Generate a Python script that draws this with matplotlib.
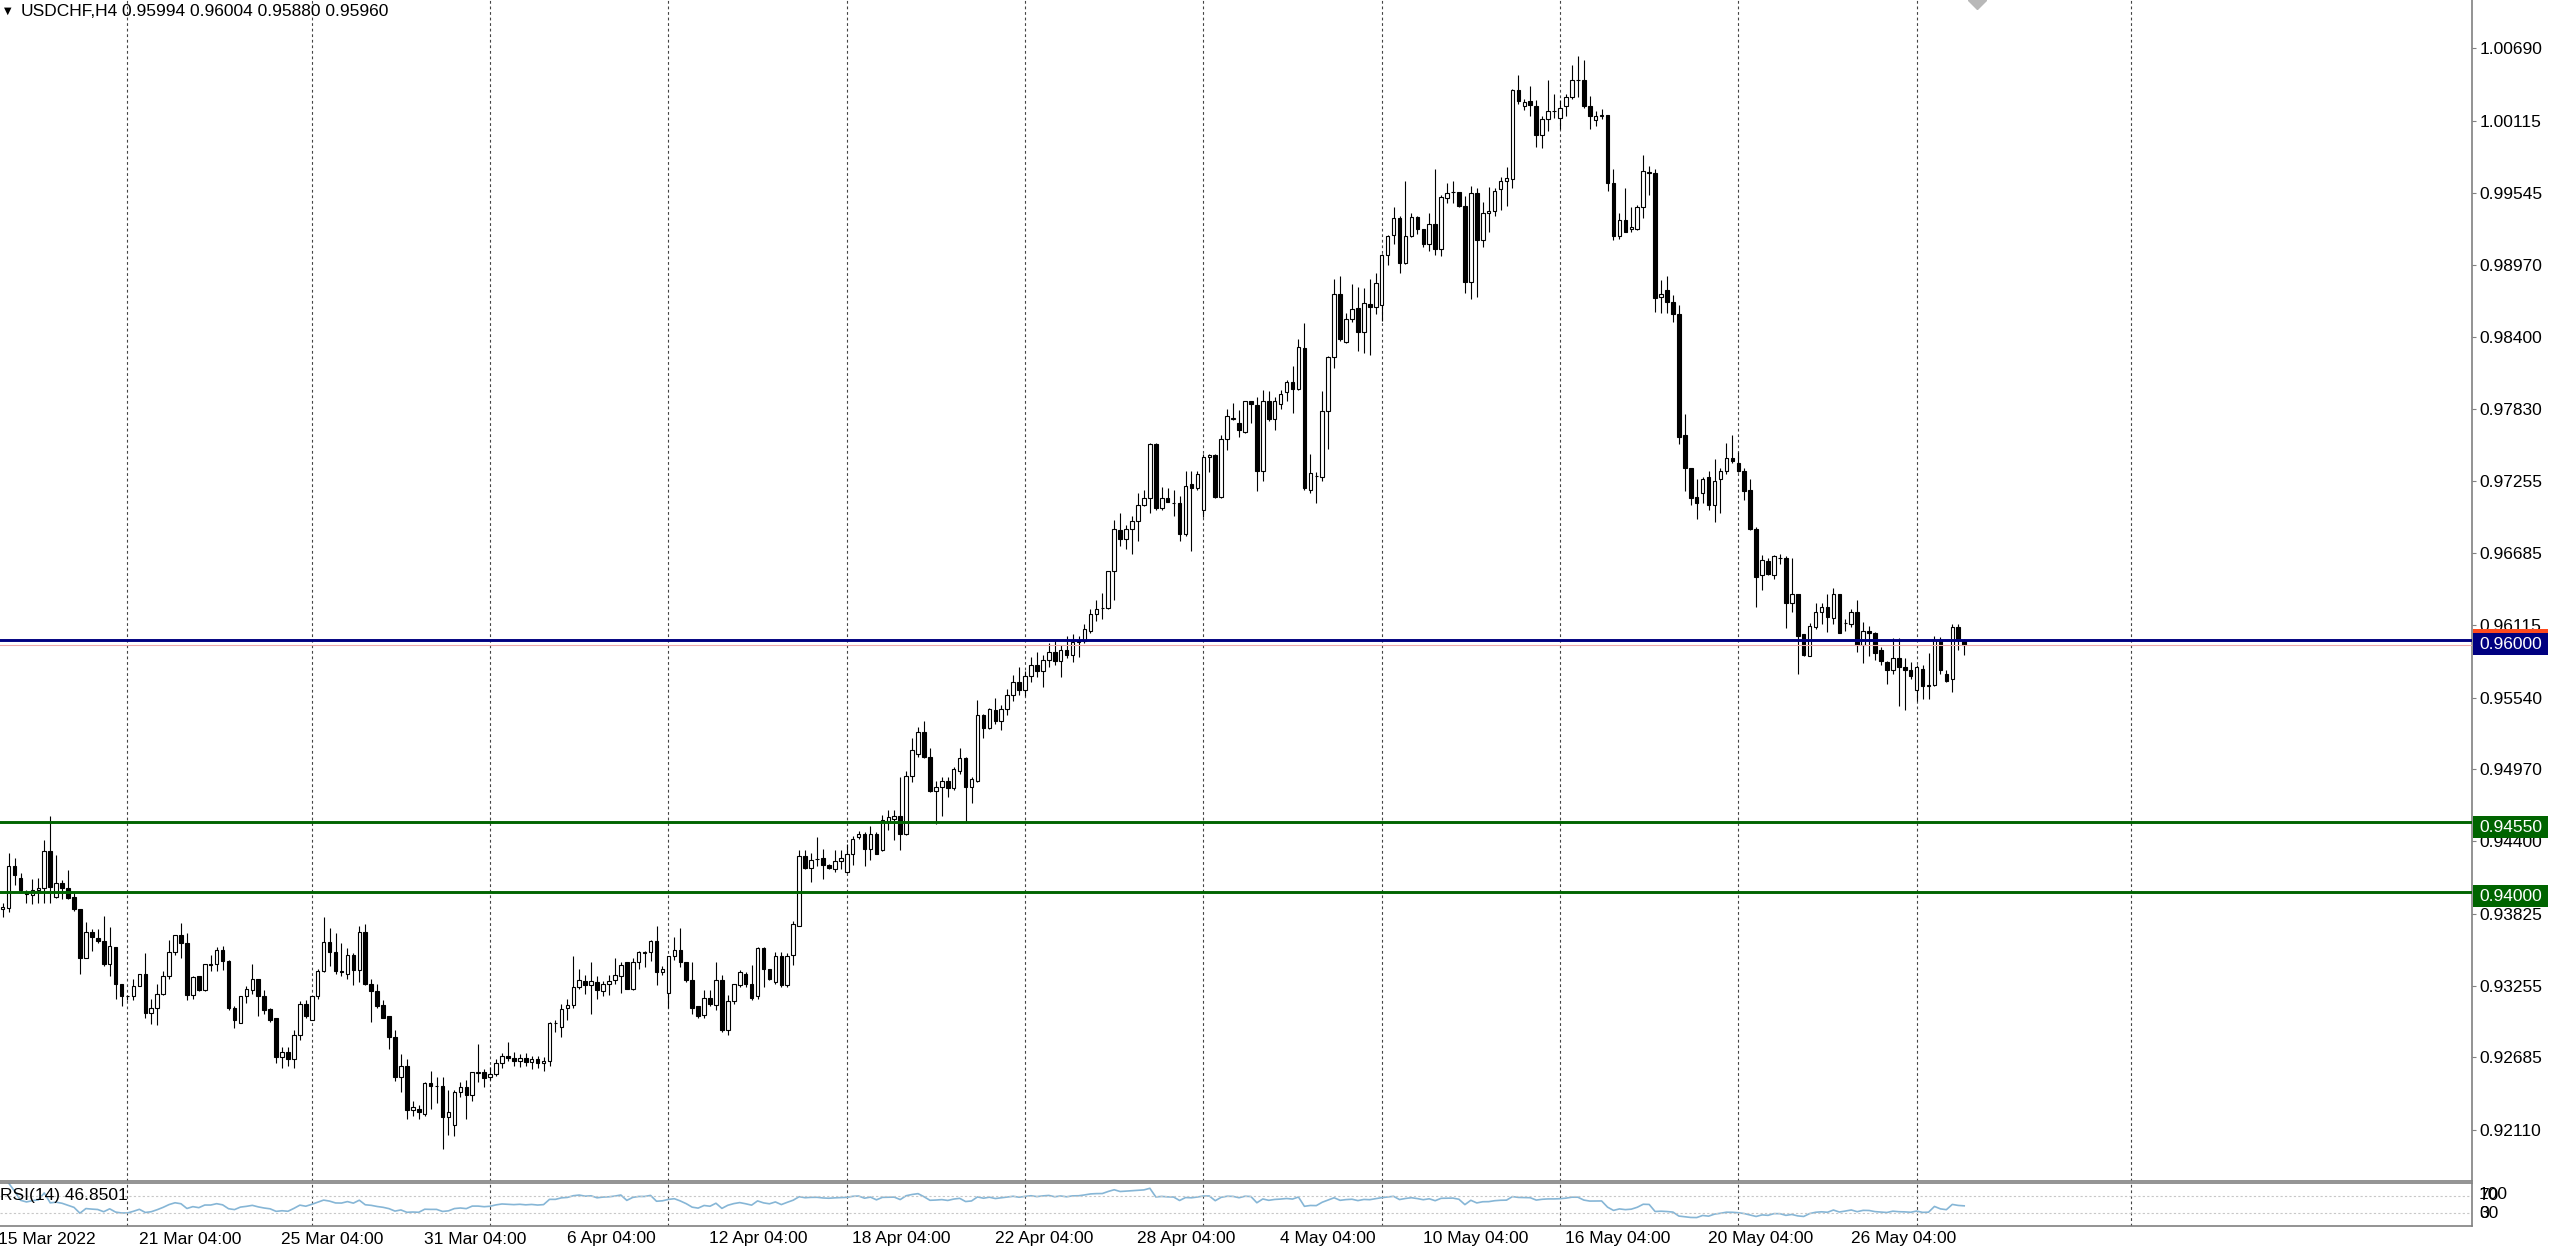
import numpy as np
import pandas as pd
import matplotlib
matplotlib.use("Agg")
import matplotlib.pyplot as plt
from matplotlib.patches import Rectangle
from matplotlib.transforms import blended_transform_factory as blend

plt.rcParams['font.family'] = ['Liberation Sans', 'DejaVu Sans']

# USDCHF H4 candles (left to right)
opens = [
    0.9386, 0.9387, 0.9420, 0.9411, 0.9399, 0.9397, 0.9401, 0.9403, 0.9432, 0.9396,
    0.9407, 0.9403, 0.9396, 0.9386, 0.9347, 0.9368, 0.9363, 0.9361, 0.9343, 0.9356,
    0.9327, 0.9317, 0.9317, 0.9325, 0.9335, 0.9304, 0.9308, 0.9319, 0.9333, 0.9352,
    0.9366, 0.9359, 0.9318, 0.9333, 0.9322, 0.9342, 0.9343, 0.9354, 0.9345, 0.9308,
    0.9296, 0.9317, 0.9322, 0.9331, 0.9317, 0.9307, 0.9300, 0.9269, 0.9273, 0.9267,
    0.9286, 0.9311, 0.9298, 0.9317, 0.9337, 0.9360, 0.9352, 0.9337, 0.9335, 0.9350,
    0.9338, 0.9368, 0.9327, 0.9321, 0.9310, 0.9301, 0.9285, 0.9253, 0.9262, 0.9227,
    0.9228, 0.9224, 0.9248, 0.9246, 0.9246, 0.9221, 0.9215, 0.9241, 0.9245, 0.9239,
    0.9256, 0.9257, 0.9253, 0.9255,
    0.9264, 0.9270, 0.9268, 0.9266, 0.9268, 0.9265, 0.9267, 0.9264, 0.9266,
    0.9296, 0.9293, 0.9308, 0.9310, 0.9324, 0.9329, 0.9326, 0.9328, 0.9321, 0.9327,
    0.9330, 0.9333, 0.9344, 0.9323, 0.9344, 0.9351, 0.9352, 0.9361, 0.9336, 0.9320,
    0.9349, 0.9354, 0.9344, 0.9330, 0.9309, 0.9302, 0.9316, 0.9310, 0.9330, 0.9290,
    0.9313, 0.9326, 0.9335, 0.9327, 0.9317, 0.9355, 0.9339, 0.9328, 0.9349, 0.9326,
    0.9350, 0.9373, 0.9428, 0.9419, 0.9426, 0.9427, 0.9421, 0.9418, 0.9424, 0.9416,
    0.9430, 0.9443, 0.9446, 0.9434, 0.9446, 0.9433, 0.9456, 0.9458, 0.9460, 0.9446,
    0.9492, 0.9509, 0.9527, 0.9507, 0.9480, 0.9483, 0.9488, 0.9482, 0.9496, 0.9506,
    0.9483, 0.9488, 0.9540, 0.9530, 0.9544,
    0.9535, 0.9545, 0.9556, 0.9566, 0.9560, 0.9571, 0.9580, 0.9575, 0.9584, 0.9590,
    0.9583, 0.9592, 0.9588, 0.9598,
    0.9599, 0.9607, 0.9620, 0.9625, 0.9625, 0.9654, 0.9687, 0.9680, 0.9688, 0.9694,
    0.9707, 0.9712, 0.9755, 0.9704, 0.9712, 0.9708, 0.9708, 0.9684, 0.9723, 0.9720,
    0.9703, 0.9745, 0.9746, 0.9713, 0.9759, 0.9775, 0.9772, 0.9765, 0.9789, 0.9786,
    0.9734, 0.9789, 0.9775, 0.9787, 0.9796, 0.9804, 0.9799, 0.9831, 0.9719, 0.9730,
    0.9729, 0.9781, 0.9824, 0.9874, 0.9836, 0.9854, 0.9863, 0.9844, 0.9866, 0.9864,
    0.9865, 0.9905, 0.9921, 0.9934, 0.9899, 0.9920, 0.9935, 0.9926, 0.9914, 0.9930,
    0.9910, 0.9950, 0.9955, 0.9955, 0.9944, 0.9884, 0.9954, 0.9917, 0.9938, 0.9940,
    0.9957, 0.9964, 0.9965, 1.0036, 1.0023, 1.0027, 1.0023, 1.0000, 1.0013, 1.0019,
    1.0014, 1.0023, 1.0030, 1.0044, 1.0044, 1.0023, 1.0012, 1.0015, 1.0016, 0.9962,
    0.9920, 0.9933, 0.9926, 0.9926, 0.9943, 0.9971, 0.9970, 0.9872, 0.9877, 0.9868,
    0.9858, 0.9762, 0.9736, 0.9713, 0.9716, 0.9729, 0.9707, 0.9727, 0.9734, 0.9744,
    0.9740, 0.9734, 0.9719, 0.9688, 0.9651, 0.9662, 0.9651, 0.9665, 0.9665, 0.9629,
    0.9636, 0.9604, 0.9587, 0.9610, 0.9622, 0.9626, 0.9617, 0.9636, 0.9613, 0.9612,
    0.9622, 0.9596, 0.9607, 0.9605, 0.9592, 0.9582, 0.9576, 0.9585, 0.9578, 0.9576,
    0.9560, 0.9577, 0.9563, 0.9564, 0.9600, 0.9573, 0.9569, 0.9610, 0.95994,
]
highs = [
    0.9391, 0.9431, 0.9427, 0.9415, 0.9401, 0.9410, 0.9411, 0.9441, 0.9460, 0.9429,
    0.9409, 0.9417, 0.9399, 0.9386, 0.9376, 0.9370, 0.9370, 0.9381, 0.9372, 0.9356,
    0.9327, 0.9318, 0.9331, 0.9335, 0.9351, 0.9315, 0.9327, 0.9337, 0.9362, 0.9366,
    0.9375, 0.9367, 0.9333, 0.9333, 0.9343, 0.9350, 0.9356, 0.9357, 0.9346, 0.9309,
    0.9317, 0.9325, 0.9343, 0.9331, 0.9322, 0.9308, 0.9300, 0.9277, 0.9277, 0.9290,
    0.9313, 0.9314, 0.9317, 0.9339, 0.9380, 0.9371, 0.9367, 0.9359, 0.9355, 0.9351,
    0.9373, 0.9374, 0.9331, 0.9327, 0.9314, 0.9301, 0.9290, 0.9271, 0.9267, 0.9234,
    0.9231, 0.9249, 0.9258, 0.9253, 0.9253, 0.9243, 0.9243, 0.9249, 0.9251, 0.9257,
    0.9279, 0.9259, 0.9261, 0.9267,
    0.9272, 0.9281, 0.9273, 0.9271, 0.9272, 0.9270, 0.9270, 0.9269, 0.9297,
    0.9298, 0.9311, 0.9315, 0.9349, 0.9339, 0.9334, 0.9344, 0.9333, 0.9329, 0.9334,
    0.9347, 0.9344, 0.9344, 0.9347, 0.9353, 0.9353, 0.9362, 0.9373, 0.9341, 0.9349,
    0.9364, 0.9371, 0.9344, 0.9344, 0.9309, 0.9322, 0.9322, 0.9344, 0.9334, 0.9318,
    0.9327, 0.9338, 0.9336, 0.9342, 0.9356, 0.9356, 0.9339, 0.9352, 0.9352, 0.9351,
    0.9377, 0.9433, 0.9433, 0.9431, 0.9443, 0.9434, 0.9422, 0.9433, 0.9433, 0.9438,
    0.9444, 0.9448, 0.9447, 0.9452, 0.9447, 0.9461, 0.9465, 0.9465, 0.9491, 0.9496,
    0.9522, 0.9531, 0.9535, 0.9514, 0.9488, 0.9491, 0.9491, 0.9499, 0.9514, 0.9507,
    0.9491, 0.9552, 0.9541, 0.9546, 0.9554,
    0.9548, 0.9561, 0.9572, 0.9578, 0.9575, 0.9586, 0.9590, 0.9588, 0.9597, 0.9600,
    0.9596, 0.9603, 0.9604, 0.9603,
    0.9612, 0.9624, 0.9631, 0.9637, 0.9654, 0.9695, 0.9700, 0.9691, 0.9698, 0.9716,
    0.9719, 0.9756, 0.9756, 0.9721, 0.9720, 0.9719, 0.9714, 0.9734, 0.9734, 0.9734,
    0.9747, 0.9747, 0.9747, 0.9762, 0.9783, 0.9788, 0.9782, 0.9789, 0.9789, 0.9792,
    0.9798, 0.9797, 0.9792, 0.9798, 0.9806, 0.9817, 0.9838, 0.9851, 0.9747, 0.9733,
    0.9797, 0.9825, 0.9886, 0.9888, 0.9859, 0.9882, 0.9880, 0.9879, 0.9886, 0.9891,
    0.9906, 0.9921, 0.9943, 0.9936, 0.9964, 0.9938, 0.9936, 0.9926, 0.9938, 0.9973,
    0.9953, 0.9962, 0.9964, 0.9955, 0.9952, 0.9960, 0.9958, 0.9947, 0.9959, 0.9958,
    0.9967, 0.9975, 1.0037, 1.0048, 1.0029, 1.0039, 1.0028, 1.0015, 1.0044, 1.0033,
    1.0028, 1.0033, 1.0056, 1.0063, 1.0060, 1.0031, 1.0019, 1.0021, 1.0016, 0.9973,
    0.9938, 0.9958, 0.9943, 0.9945, 0.9984, 0.9976, 0.9973, 0.9885, 0.9888, 0.9873,
    0.9865, 0.9779, 0.9736, 0.9727, 0.9729, 0.9734, 0.9743, 0.9736, 0.9756, 0.9762,
    0.9749, 0.9736, 0.9727, 0.9689, 0.9667, 0.9665, 0.9667, 0.9668, 0.9666, 0.9665,
    0.9636, 0.9604, 0.9613, 0.9629, 0.9629, 0.9636, 0.9641, 0.9636, 0.9616, 0.9624,
    0.9631, 0.9614, 0.9611, 0.9606, 0.9594, 0.9583, 0.9601, 0.9601, 0.9585, 0.9582,
    0.9580, 0.9580, 0.9589, 0.9603, 0.9602, 0.9576, 0.9612, 0.9612, 0.96004,
]
lows = [
    0.9380, 0.9384, 0.9405, 0.9400, 0.9391, 0.9390, 0.9391, 0.9391, 0.9391, 0.9395,
    0.9394, 0.9394, 0.9385, 0.9335, 0.9347, 0.9353, 0.9359, 0.9341, 0.9333, 0.9315,
    0.9309, 0.9314, 0.9314, 0.9325, 0.9300, 0.9295, 0.9294, 0.9318, 0.9331, 0.9350,
    0.9347, 0.9314, 0.9315, 0.9321, 0.9321, 0.9337, 0.9337, 0.9338, 0.9306, 0.9292,
    0.9296, 0.9312, 0.9319, 0.9301, 0.9303, 0.9297, 0.9264, 0.9260, 0.9262, 0.9260,
    0.9282, 0.9300, 0.9298, 0.9315, 0.9336, 0.9341, 0.9335, 0.9333, 0.9331, 0.9326,
    0.9328, 0.9326, 0.9297, 0.9308, 0.9300, 0.9275, 0.9250, 0.9241, 0.9220, 0.9222,
    0.9220, 0.9222, 0.9228, 0.9232, 0.9196, 0.9207, 0.9206, 0.9237, 0.9220, 0.9234,
    0.9249, 0.9245, 0.9251, 0.9254,
    0.9260, 0.9266, 0.9262, 0.9261, 0.9262, 0.9259, 0.9260, 0.9258, 0.9262,
    0.9289, 0.9285, 0.9298, 0.9308, 0.9323, 0.9319, 0.9303, 0.9315, 0.9317, 0.9318,
    0.9327, 0.9320, 0.9323, 0.9322, 0.9339, 0.9340, 0.9345, 0.9326, 0.9334, 0.9308,
    0.9346, 0.9340, 0.9328, 0.9303, 0.9300, 0.9300, 0.9309, 0.9306, 0.9289, 0.9286,
    0.9311, 0.9324, 0.9324, 0.9314, 0.9315, 0.9324, 0.9330, 0.9327, 0.9324, 0.9324,
    0.9342, 0.9373, 0.9418, 0.9408, 0.9420, 0.9410, 0.9418, 0.9416, 0.9418, 0.9415,
    0.9421, 0.9442, 0.9420, 0.9425, 0.9430, 0.9432, 0.9449, 0.9441, 0.9433, 0.9445,
    0.9487, 0.9507, 0.9506, 0.9479, 0.9454, 0.9460, 0.9475, 0.9481, 0.9493, 0.9455,
    0.9470, 0.9487, 0.9522, 0.9529, 0.9533,
    0.9528, 0.9540, 0.9551, 0.9556, 0.9555, 0.9566, 0.9570, 0.9562, 0.9578, 0.9580,
    0.9570, 0.9585, 0.9582, 0.9586,
    0.9597, 0.9605, 0.9615, 0.9616, 0.9624, 0.9631, 0.9674, 0.9672, 0.9668, 0.9678,
    0.9706, 0.9700, 0.9703, 0.9703, 0.9711, 0.9698, 0.9678, 0.9682, 0.9670, 0.9719,
    0.9697, 0.9733, 0.9712, 0.9712, 0.9750, 0.9774, 0.9761, 0.9764, 0.9772, 0.9718,
    0.9726, 0.9773, 0.9766, 0.9783, 0.9789, 0.9780, 0.9798, 0.9719, 0.9716, 0.9708,
    0.9726, 0.9751, 0.9815, 0.9837, 0.9835, 0.9852, 0.9829, 0.9827, 0.9826, 0.9858,
    0.9853, 0.9897, 0.9914, 0.9891, 0.9898, 0.9919, 0.9922, 0.9911, 0.9908, 0.9905,
    0.9904, 0.9946, 0.9946, 0.9943, 0.9875, 0.9870, 0.9872, 0.9911, 0.9923, 0.9936,
    0.9941, 0.9944, 0.9958, 1.0025, 1.0020, 1.0015, 0.9991, 0.9990, 1.0003, 1.0014,
    1.0005, 1.0015, 1.0029, 1.0030, 1.0022, 1.0005, 1.0007, 1.0013, 0.9956, 0.9917,
    0.9918, 0.9923, 0.9923, 0.9925, 0.9934, 0.9953, 0.9860, 0.9859, 0.9859, 0.9852,
    0.9755, 0.9718, 0.9707, 0.9696, 0.9708, 0.9703, 0.9693, 0.9700, 0.9731, 0.9740,
    0.9733, 0.9711, 0.9687, 0.9626, 0.9639, 0.9651, 0.9648, 0.9660, 0.9609, 0.9622,
    0.9573, 0.9587, 0.9587, 0.9608, 0.9612, 0.9606, 0.9612, 0.9605, 0.9607, 0.9610,
    0.9590, 0.9581, 0.9587, 0.9584, 0.9580, 0.9565, 0.9573, 0.9547, 0.9544, 0.9569,
    0.9551, 0.9553, 0.9553, 0.9563, 0.9573, 0.9566, 0.9558, 0.9592, 0.95880,
]
closes = [
    0.9388, 0.9420, 0.9413, 0.9401, 0.9398, 0.9401, 0.9403, 0.9432, 0.9404, 0.9407,
    0.9403, 0.9395, 0.9386, 0.9347, 0.9368, 0.9364, 0.9361, 0.9343, 0.9357, 0.9327,
    0.9317, 0.9317, 0.9325, 0.9335, 0.9304, 0.9308, 0.9319, 0.9333, 0.9352, 0.9366,
    0.9359, 0.9318, 0.9332, 0.9322, 0.9343, 0.9343, 0.9354, 0.9345, 0.9308, 0.9298,
    0.9317, 0.9323, 0.9331, 0.9317, 0.9306, 0.9298, 0.9269, 0.9273, 0.9267, 0.9286,
    0.9311, 0.9301, 0.9317, 0.9337, 0.9360, 0.9352, 0.9337, 0.9336, 0.9350, 0.9338,
    0.9368, 0.9327, 0.9321, 0.9309, 0.9300, 0.9285, 0.9253, 0.9262, 0.9227, 0.9229,
    0.9225, 0.9248, 0.9246, 0.9246, 0.9221, 0.9225, 0.9241, 0.9245, 0.9239, 0.9257,
    0.9257, 0.9252, 0.9255, 0.9264,
    0.9270, 0.9268, 0.9266, 0.9268, 0.9265, 0.9267, 0.9264, 0.9266, 0.9296,
    0.9296, 0.9307, 0.9310, 0.9324, 0.9330, 0.9326, 0.9329, 0.9322, 0.9327, 0.9329,
    0.9334, 0.9342, 0.9323, 0.9344, 0.9352, 0.9352, 0.9361, 0.9336, 0.9339, 0.9349,
    0.9354, 0.9344, 0.9330, 0.9308, 0.9301, 0.9316, 0.9311, 0.9330, 0.9290, 0.9313,
    0.9327, 0.9336, 0.9327, 0.9316, 0.9355, 0.9339, 0.9331, 0.9349, 0.9326, 0.9349,
    0.9374, 0.9428, 0.9419, 0.9425, 0.9426, 0.9421, 0.9419, 0.9424, 0.9427, 0.9430,
    0.9442, 0.9446, 0.9434, 0.9446, 0.9430, 0.9457, 0.9459, 0.9460, 0.9446, 0.9492,
    0.9512, 0.9527, 0.9507, 0.9480, 0.9483, 0.9488, 0.9482, 0.9497, 0.9506, 0.9483,
    0.9489, 0.9540, 0.9530, 0.9545, 0.9535,
    0.9545, 0.9556, 0.9566, 0.9560, 0.9571, 0.9580, 0.9575, 0.9584, 0.9590, 0.9583,
    0.9592, 0.9588, 0.9598, 0.9599,
    0.9608, 0.9620, 0.9624, 0.9625, 0.9654, 0.9688, 0.9680, 0.9688, 0.9694, 0.9707,
    0.9712, 0.9755, 0.9704, 0.9712, 0.9709, 0.9708, 0.9684, 0.9722, 0.9720, 0.9731,
    0.9745, 0.9746, 0.9713, 0.9759, 0.9777, 0.9776, 0.9766, 0.9789, 0.9787, 0.9734,
    0.9789, 0.9775, 0.9789, 0.9795, 0.9804, 0.9799, 0.9832, 0.9720, 0.9732, 0.9730,
    0.9781, 0.9824, 0.9874, 0.9838, 0.9854, 0.9862, 0.9844, 0.9867, 0.9864, 0.9883,
    0.9905, 0.9920, 0.9934, 0.9899, 0.9920, 0.9935, 0.9926, 0.9914, 0.9930, 0.9910,
    0.9951, 0.9954, 0.9955, 0.9944, 0.9884, 0.9954, 0.9917, 0.9938, 0.9940, 0.9956,
    0.9964, 0.9966, 1.0036, 1.0027, 1.0026, 1.0024, 1.0000, 1.0013, 1.0019, 1.0019,
    1.0022, 1.0030, 1.0044, 1.0044, 1.0023, 1.0015, 1.0015, 1.0016, 0.9962, 0.9920,
    0.9933, 0.9923, 0.9927, 0.9943, 0.9972, 0.9970, 0.9871, 0.9874, 0.9868, 0.9858,
    0.9761, 0.9736, 0.9712, 0.9708, 0.9727, 0.9707, 0.9726, 0.9734, 0.9744, 0.9742,
    0.9734, 0.9718, 0.9688, 0.9650, 0.9663, 0.9652, 0.9666, 0.9665, 0.9629, 0.9636,
    0.9603, 0.9588, 0.9611, 0.9622, 0.9626, 0.9618, 0.9636, 0.9605, 0.9613, 0.9622,
    0.9596, 0.9607, 0.9605, 0.9589, 0.9583, 0.9576, 0.9585, 0.9578, 0.9576, 0.9571,
    0.9578, 0.9563, 0.9564, 0.9600, 0.9576, 0.9567, 0.9610, 0.9600, 0.95960,
]

price_ticks = [1.00690, 1.00115, 0.99545, 0.98970, 0.98400, 0.97830, 0.97255, 0.96685,
               0.96115, 0.95540, 0.94970, 0.94400, 0.93825, 0.93255, 0.92685, 0.92110]
level_blue = 0.96000
level_green = [0.94550, 0.94000]
bid_price = 0.95960
time_labels = ["21 Mar 04:00", "25 Mar 04:00", "31 Mar 04:00", "6 Apr 04:00",
               "12 Apr 04:00", "18 Apr 04:00", "22 Apr 04:00", "28 Apr 04:00",
               "4 May 04:00", "10 May 04:00", "16 May 04:00", "20 May 04:00",
               "26 May 04:00"]
time_label_bars = [22, 46, 70, 94, 118, 142, 166, 190, 214, 238, 262, 286, 310]
grid_bars = [21, 52, 82, 112, 142, 172, 202, 232, 262, 292, 322, 358]
symbol_text = "USDCHF,H4"
ohlc_text = "0.95994 0.96004 0.95880 0.95960"
rsi_text = "RSI(14) 46.8501"

o = np.array(opens)
h = np.array(highs)
l = np.array(lows)
c = np.array(closes)
x = np.arange(len(c))

# RSI(14) with Wilder smoothing of the closes
d = pd.Series(c).diff()
gain = d.clip(lower=0).ewm(alpha=1 / 14, adjust=True).mean()
loss = (-d.clip(upper=0)).ewm(alpha=1 / 14, adjust=True).mean()
rsi = 100 - 100 / (1 + gain / loss)

W, H = 2560, 1250
fig = plt.figure(figsize=(W / 100, H / 100), dpi=100)
fig.patch.set_facecolor('white')
ax = fig.add_axes([0, 69 / H, 2472 / W, 1181 / H])
ax_rsi = fig.add_axes([0, 24 / H, 2472 / W, 43 / H])

bar_px = 5.944
x0 = -2.67 / bar_px
xlim = (x0, x0 + 2472 / bar_px)

# candles
up = c >= o
ax.vlines(x, l, h, color='black', lw=0.8, zorder=3)
bottom = np.minimum(o, c)
height = np.abs(c - o)
ax.bar(x[up], height[up], bottom=bottom[up], width=0.6, color='white',
       edgecolor='black', linewidth=0.8, zorder=4)
ax.bar(x[~up], height[~up], bottom=bottom[~up], width=0.6, color='black',
       edgecolor='black', linewidth=0.8, zorder=4)

# levels
ax.axhline(bid_price, color='#eeaaaa', lw=0.8, zorder=5)
ax.axhline(level_blue, color='#000080', lw=2.1, zorder=6)
for lv in level_green:
    ax.axhline(lv, color='#006400', lw=2.1, zorder=6)

# period separators
for g in grid_bars:
    ax.axvline(g, color='#444444', lw=0.8, ls=(0, (2.5, 2.5)), zorder=1)
    ax_rsi.axvline(g, color='#444444', lw=0.8, ls=(0, (2.5, 2.5)), zorder=1)

ax.set_xlim(*xlim)
ax.set_ylim(0.91705, 1.01073)
ax.spines['top'].set_visible(False)
ax.spines['left'].set_visible(False)
for s in ['right', 'bottom']:
    ax.spines[s].set_color('#808080')
    ax.spines[s].set_linewidth(1.2)
ax.set_xticks([])
ax.yaxis.tick_right()
ax.set_yticks(price_ticks)
ax.set_yticklabels([f"{t:.5f}" for t in price_ticks])
ax.tick_params(axis='y', direction='out', length=3, width=0.8, color='#808080',
               pad=2.5, labelsize=12.5, labelcolor='black')

# shift marker at the top
ax.plot([332.1], [1.01073], marker='D', ms=9, color='#b8b8b8', zorder=2)

# price labels on the axis
tr_lab = blend(ax.transAxes, ax.transData)
ax.add_patch(Rectangle((2473 / 2472, level_blue + 0.0005), 75 / 2472, 0.0003,
                       transform=tr_lab, fc='#ff4a1c', ec='none', clip_on=False, zorder=10))
for lv, col in [(level_blue, '#000080')] + [(g, '#006400') for g in level_green]:
    ax.add_patch(Rectangle((2473 / 2472, lv - 0.00125), 75 / 2472, 0.00175,
                           transform=tr_lab, fc=col, ec='none', clip_on=False, zorder=10))
    ax.text(2479 / 2472, lv - 0.00038, f"{lv:.5f}", transform=tr_lab, color='white',
            fontsize=12.5, ha='left', va='center', zorder=11, clip_on=False)

# RSI panel
ax_rsi.plot(x, rsi, color='#86b6d6', lw=1.2)
for lv in (70, 30):
    ax_rsi.axhline(lv, color='#c8c8c8', lw=0.8, ls=(0, (2, 2)))
ax_rsi.set_xlim(*xlim)
ax_rsi.set_ylim(0, 100)
ax_rsi.set_xticks([])
ax_rsi.set_yticks([])
ax_rsi.spines['left'].set_visible(False)
for s in ['right', 'bottom', 'top']:
    ax_rsi.spines[s].set_color('#808080')
    ax_rsi.spines[s].set_linewidth(1.2)
tr_rsi = blend(ax_rsi.transAxes, ax_rsi.transData)
ax_rsi.text(0.0, 72, rsi_text, transform=tr_rsi, fontsize=12.5, ha='left', va='center')
# the level labels sit on top of each other, as in the terminal
for txt, yv in [("100", 74), ("70", 72), ("30", 30), ("0", 29)]:
    ax_rsi.text(2479 / 2472, yv, txt, transform=tr_rsi, fontsize=12.5,
                ha='left', va='center', clip_on=False)

# time axis labels
tr_time = blend(ax_rsi.transData, fig.transFigure)
ax_rsi.text(x0 - 0.35, 11 / H, "15 Mar 2022", transform=tr_time, fontsize=12.5,
            ha='left', va='center')
for b, s in zip(time_label_bars, time_labels):
    ax_rsi.text(b + 0.9, 11 / H, s, transform=tr_time, fontsize=12.5,
                ha='left', va='center')

# header
fig.text(4 / W, 1 - 11 / H, "\u25BC", fontsize=7, ha='left', va='center',
         family='DejaVu Sans')
fig.text(21 / W, 1 - 12 / H, symbol_text, fontsize=12.5, ha='left', va='center')
fig.text(122 / W, 1 - 12 / H, ohlc_text, fontsize=12.5, ha='left', va='center')

fig.savefig("out.png", dpi=100, facecolor='white')
